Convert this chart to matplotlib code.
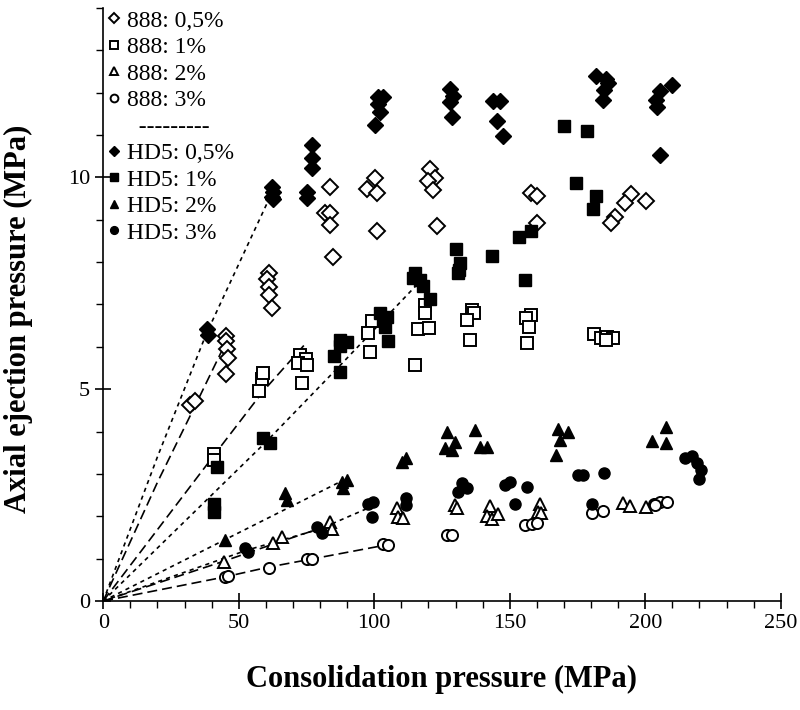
import matplotlib
matplotlib.use("Agg")
import matplotlib.pyplot as plt
from matplotlib.lines import Line2D

plt.rcParams["font.family"] = ["Liberation Serif", "DejaVu Serif"]

# --- measured points (consolidation pressure, ejection pressure) ---
x_888_05 = [32.1, 33.9, 45.4, 45.4, 45.6, 46.2, 45.4, 61, 60.4, 61.2, 61, 62.2,
            83.7, 81.9, 83.7, 83.7, 84.9, 100.3, 97.2, 100.9, 100.9,
            120.6, 122.4, 120, 121.8, 123, 158, 159.9, 160.1,
            194.6, 200.1, 192.7, 189, 187.2]
y_888_05 = [4.62, 4.72, 6.26, 6.14, 5.94, 5.74, 5.35, 7.73, 7.59, 7.40, 7.23, 6.92,
            9.76, 9.16, 9.16, 8.88, 8.12, 9.99, 9.73, 9.63, 8.73,
            10.2, 9.99, 9.91, 9.71, 8.85, 9.62, 9.55, 8.92,
            9.6, 9.44, 9.39, 9.06, 8.92]

x_hd5_05 = [38.2, 38.8, 62.3, 62.8, 62.3, 62.8, 76.9, 76.9, 76.9, 75.1, 75.1,
            101.5, 103.4, 101.5, 102.1, 100.3, 128, 129.2, 128, 128.6,
            143.9, 146.4, 145.2, 147.6, 182, 185.4, 186.3, 184.7, 184.3,
            210, 205.6, 203.8, 204.4, 205.6]
y_hd5_05 = [6.43, 6.27, 9.76, 9.65, 9.53, 9.48, 10.77, 10.46, 10.23, 9.65, 9.50,
            11.89, 11.89, 11.74, 11.54, 11.23, 12.09, 11.93, 11.78, 11.42,
            11.80, 11.80, 11.34, 10.97, 12.38, 12.33, 12.22, 12.07, 11.83,
            12.19, 12.04, 11.82, 11.67, 10.53]

x_888_1 = [40.7, 40.7, 58.5, 57.6, 59.0, 72.6, 74.9, 72, 75.1, 73.3,
           99.1, 97.8, 98.5, 118.7, 118.7, 116.3, 120.2, 115,
           136.2, 136.8, 134.3, 135.4, 157.7, 156, 157.1, 156.5,
           181, 183.5, 186, 188.2, 185.4]
y_888_1 = [3.48, 3.33, 5.23, 4.96, 5.37, 5.80, 5.70, 5.62, 5.57, 5.15,
           6.61, 6.33, 5.88, 6.98, 6.79, 6.41, 6.45, 5.58,
           6.86, 6.79, 6.64, 6.16, 6.76, 6.69, 6.47, 6.09,
           6.29, 6.21, 6.23, 6.21, 6.16]

x_hd5_1 = [40.7, 40.7, 41.9, 59.1, 61.6, 87.4, 89.9, 87.4, 85.3, 87.4,
           102.1, 104.6, 103.4, 104, 105.2, 115, 114.4, 116.9, 118.1, 120.6,
           130, 131.6, 131.4, 131, 143.5, 153.4, 157.7, 155.8,
           170, 178.6, 174.4, 181.8, 180.6]
y_hd5_1 = [2.30, 2.11, 3.17, 3.84, 3.73, 6.16, 6.12, 6.01, 5.78, 5.41,
           6.79, 6.71, 6.63, 6.47, 6.14, 7.74, 7.63, 7.57, 7.43, 7.12,
           8.30, 7.97, 7.81, 7.74, 8.14, 8.58, 8.73, 7.57,
           11.21, 11.09, 9.87, 9.55, 9.24]

x_888_2 = [44.4, 65.9, 62.8, 83.7, 84.3, 108.3, 108.9, 110.7, 129.8, 130.4,
           142.7, 141.5, 143.5, 145.7, 161.1, 160.5, 161.7, 191.9, 194.5, 200.1]
y_888_2 = [0.93, 1.52, 1.36, 1.87, 1.71, 2.19, 1.99, 1.95, 2.26, 2.19,
           2.24, 2.00, 1.93, 2.05, 2.30, 2.11, 2.07, 2.32, 2.24, 2.21]

x_hd5_2 = [45, 67.1, 67.7, 88, 89.8, 88.6, 110.1, 111.9, 126.7, 129.8, 126.1, 128.6,
           137.2, 139, 141.7, 167.9, 171.6, 168.5, 167, 207.6, 202.3, 207.6]
y_hd5_2 = [1.44, 2.54, 2.38, 2.81, 2.85, 2.66, 3.29, 3.37, 3.99, 3.76, 3.60, 3.56,
           4.03, 3.64, 3.64, 4.07, 3.99, 3.80, 3.44, 4.11, 3.77, 3.72]

x_888_3 = [45, 46, 61, 75.1, 77, 103.4, 105.2, 126.7, 128.6, 155.6, 158.1, 159.9,
           180.5, 184.5, 203.2, 205.4, 208.1, 203.5]
y_888_3 = [0.56, 0.60, 0.79, 0.98, 0.98, 1.34, 1.32, 1.56, 1.56, 1.79, 1.82, 1.83,
           2.07, 2.12, 2.30, 2.34, 2.34, 2.26]

x_hd5_3 = [52.4, 53.6, 78.8, 80.6, 97.8, 99.7, 99.1, 111.9, 111.9, 132.3, 134.1, 131,
           148.2, 150.1, 156.2, 151.9, 175.3, 176.9, 184.7, 180.4,
           214.6, 217.4, 218.9, 220.4, 219.8]
y_hd5_3 = [1.24, 1.16, 1.75, 1.60, 2.30, 2.34, 1.99, 2.42, 2.26, 2.78, 2.66, 2.58,
           2.74, 2.81, 2.70, 2.30, 2.97, 2.97, 3.01, 2.28,
           3.37, 3.42, 3.26, 3.09, 2.89]

# --- fitted curves (from the origin) ---
fit_888_05_x = [0, 20, 35, 46]
fit_888_05_y = [0, 2.8, 4.75, 6.2]
fit_hd5_05_x = [0, 20, 38, 62]
fit_hd5_05_y = [0, 3.4, 6.3, 9.6]
fit_888_1_x = [0, 41, 59, 75]
fit_888_1_y = [0, 3.45, 4.95, 6.1]
fit_hd5_1_x = [0, 60, 88, 117]
fit_hd5_1_y = [0, 3.75, 5.6, 7.55]
fit_888_2_x = [0, 45, 63, 84]
fit_888_2_y = [0, 0.95, 1.35, 1.8]
fit_hd5_2_x = [0, 45, 87]
fit_hd5_2_y = [0, 1.45, 2.8]
fit_888_3_x = [0, 45, 61, 76, 105]
fit_888_3_y = [0, 0.57, 0.8, 0.98, 1.33]
fit_hd5_3_x = [0, 53, 80, 98]
fit_hd5_3_y = [0, 1.2, 1.7, 2.2]

fig = plt.figure(figsize=(8, 7.1), dpi=100)
ax = fig.add_axes([0.129, 0.1535, 0.847, 0.8355])

long_dash = (6, 3)
short_dash = (2.5, 2.5)
for fx, fy in [(fit_888_05_x, fit_888_05_y), (fit_888_1_x, fit_888_1_y),
               (fit_888_2_x, fit_888_2_y), (fit_888_3_x, fit_888_3_y)]:
    ax.plot(fx, fy, color="black", lw=1.2, dashes=long_dash)
for fx, fy in [(fit_hd5_05_x, fit_hd5_05_y), (fit_hd5_1_x, fit_hd5_1_y),
               (fit_hd5_2_x, fit_hd5_2_y), (fit_hd5_3_x, fit_hd5_3_y)]:
    ax.plot(fx, fy, color="black", lw=1.2, dashes=short_dash)

ms = 8
open_kw = dict(ls="none", mfc="white", mec="black", mew=1.4, ms=ms)
fill_kw = dict(ls="none", mfc="black", mec="black", mew=1.0, ms=ms)

h1, = ax.plot(x_888_05, y_888_05, marker="D", label="888: 0,5%", **open_kw)
h2, = ax.plot(x_888_1, y_888_1, marker="s", label="888: 1%", **open_kw)
h3, = ax.plot(x_888_2, y_888_2, marker="^", label="888: 2%", **open_kw)
h4, = ax.plot(x_888_3, y_888_3, marker="o", label="888: 3%", **open_kw)
h5, = ax.plot(x_hd5_05, y_hd5_05, marker="D", label="HD5: 0,5%", **fill_kw)
h6, = ax.plot(x_hd5_1, y_hd5_1, marker="s", label="HD5: 1%", **fill_kw)
h7, = ax.plot(x_hd5_2, y_hd5_2, marker="^", label="HD5: 2%", **fill_kw)
h8, = ax.plot(x_hd5_3, y_hd5_3, marker="o", label="HD5: 3%", **fill_kw)

sep = Line2D([], [], ls="none", marker=None)
ax.legend([h1, h2, h3, h4, sep, h5, h6, h7, h8],
          ["888: 0,5%", "888: 1%", "888: 2%", "888: 3%", "  ---------",
           "HD5: 0,5%", "HD5: 1%", "HD5: 2%", "HD5: 3%"],
          loc="upper left", bbox_to_anchor=(-0.014, 1.02), frameon=False,
          fontsize=17, handlelength=0.5, handletextpad=0.3,
          labelspacing=0.21, markerscale=0.7, borderaxespad=0.2)

ax.set_xlim(0, 250)
ax.set_ylim(0, 14)
ax.set_xticks([0, 50, 100, 150, 200, 250])
ax.set_xticks(range(0, 251, 10), minor=True)
ax.set_yticks([0, 5, 10])
ax.set_yticks(range(0, 15), minor=True)
ax.tick_params(which="major", direction="inout", length=12, width=1.2, labelsize=16)
ax.tick_params(which="minor", direction="out", length=5, width=1.0)
for s in ["top", "right"]:
    ax.spines[s].set_visible(False)
for s in ["left", "bottom"]:
    ax.spines[s].set_linewidth(1.2)

ax.set_xlabel("Consolidation pressure (MPa)", fontsize=22, fontweight="bold")
ax.set_ylabel("Axial ejection pressure (MPa)", fontsize=22, fontweight="bold")
ax.xaxis.set_label_coords(0.5, -0.108)
ax.yaxis.set_label_coords(-0.103, 0.475)

fig.savefig("out.png", dpi=100)
